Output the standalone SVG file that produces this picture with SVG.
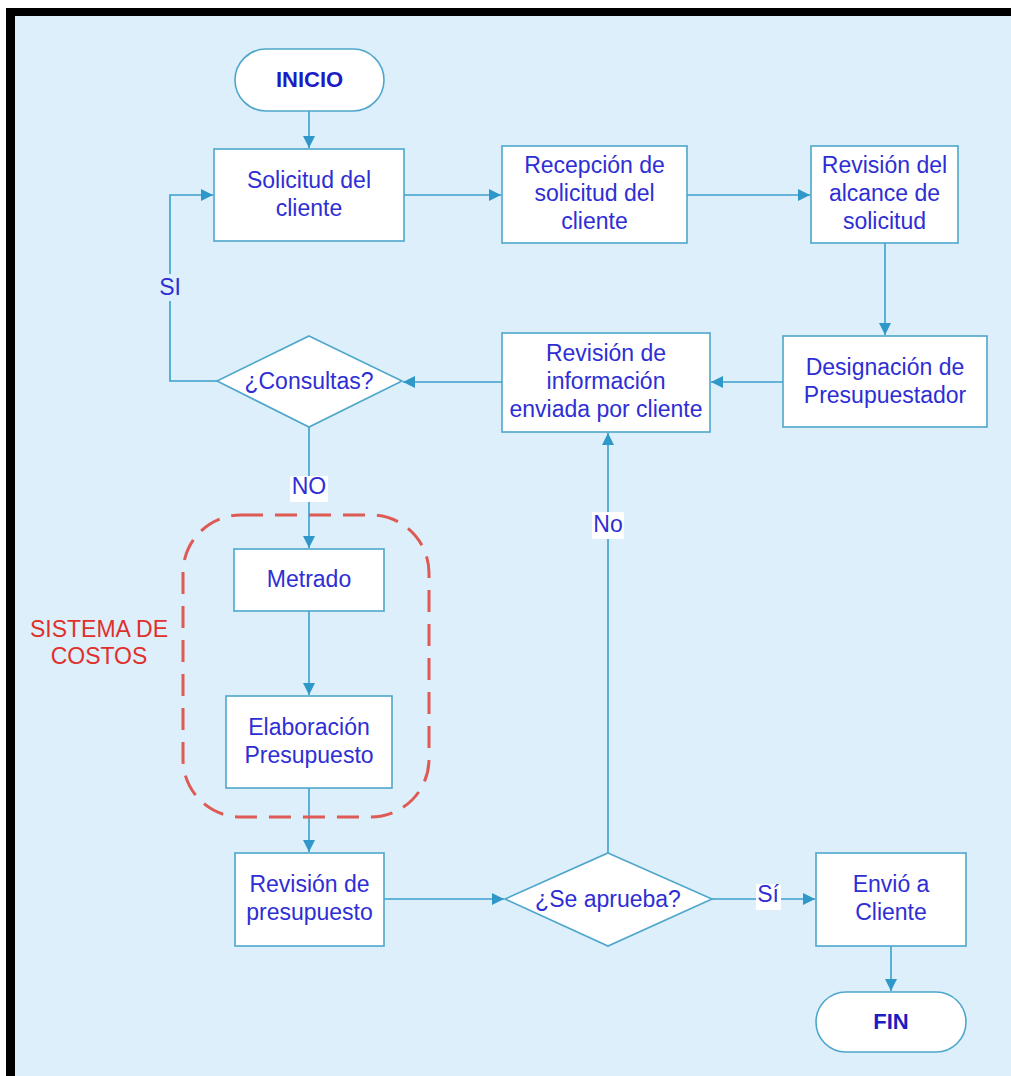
<svg xmlns="http://www.w3.org/2000/svg" width="1011" height="1076" viewBox="0 0 1011 1076">
<style>
.box{fill:#ffffff;stroke:#4ea6cc;stroke-width:1.6}
.t{font-family:"Liberation Sans",Arial,sans-serif;font-size:23px;fill:#2e2ed4;text-anchor:middle}
.b{font-weight:bold;fill:#1c1cc4;font-size:22px}
.red{fill:#e0302c}
.c{fill:none;stroke:#3b9fcc;stroke-width:1.6}
.lbg{fill:#ffffff}
</style>
<defs>
<marker id="ah" markerUnits="userSpaceOnUse" markerWidth="14" markerHeight="12" refX="12" refY="6" orient="auto">
<path d="M0,0 L12,6 L0,12 Z" fill="#2f98c8"/>
</marker>
</defs>
<rect x="0" y="0" width="1011" height="1076" fill="#ffffff"/>
<rect x="15" y="16" width="996" height="1060" fill="#ddeffa"/>
<rect x="6" y="8" width="1005" height="8" fill="#000000"/>
<rect x="6" y="8" width="9" height="1068" fill="#000000"/>

<g id="connectors">
<path class="c" d="M309,111 V148" marker-end="url(#ah)"/>
<path class="c" d="M404,195 H501" marker-end="url(#ah)"/>
<path class="c" d="M687,195 H810" marker-end="url(#ah)"/>
<path class="c" d="M885,243 V335" marker-end="url(#ah)"/>
<path class="c" d="M783,382 H711" marker-end="url(#ah)"/>
<path class="c" d="M502,382 H403" marker-end="url(#ah)"/>
<path class="c" d="M217,381 H170 V195 H213" marker-end="url(#ah)"/>
<path class="c" d="M309,427 V548" marker-end="url(#ah)"/>
<path class="c" d="M309,611 V695" marker-end="url(#ah)"/>
<path class="c" d="M309,788 V852" marker-end="url(#ah)"/>
<path class="c" d="M384,899 H504" marker-end="url(#ah)"/>
<path class="c" d="M608,853 V433" marker-end="url(#ah)"/>
<path class="c" d="M712,899 H815" marker-end="url(#ah)"/>
<path class="c" d="M891,946 V991" marker-end="url(#ah)"/>
<rect x="157" y="274" width="27" height="27" fill="#ddeffa"/>
<text class="t" x="170" y="295">SI</text>
<rect class="lbg" x="290" y="476" width="38" height="26"/>
<text class="t" x="309" y="494">NO</text>
<rect class="lbg" x="592" y="512" width="32" height="27"/>
<text class="t" x="608" y="532">No</text>
<rect class="lbg" x="756" y="884" width="25" height="26"/>
<text class="t" x="768" y="902">Sí</text>
</g>

<g id="sistema-costos">
<rect x="183" y="515" width="246" height="302" rx="58" ry="58" fill="none" stroke="#de5a55" stroke-width="3" stroke-dasharray="22 12"/>
<text class="t red" x="99" y="637">SISTEMA DE</text>
<text class="t red" x="99" y="664">COSTOS</text>
</g>

<g id="inicio">
<rect class="box" x="235" y="49" width="149" height="62" rx="31" ry="31"/>
<text class="t b" x="309.5" y="87">INICIO</text>
</g>
<g id="solicitud">
<rect class="box" x="214" y="149" width="190" height="92"/>
<text class="t" x="309" y="188">Solicitud del</text>
<text class="t" x="309" y="216">cliente</text>
</g>
<g id="recepcion">
<rect class="box" x="502" y="146" width="185" height="97"/>
<text class="t" x="594.5" y="173">Recepción de</text>
<text class="t" x="594.5" y="201">solicitud del</text>
<text class="t" x="594.5" y="229">cliente</text>
</g>
<g id="revision-alcance">
<rect class="box" x="811" y="146" width="147" height="97"/>
<text class="t" x="884.5" y="173">Revisión del</text>
<text class="t" x="884.5" y="201">alcance de</text>
<text class="t" x="884.5" y="229">solicitud</text>
</g>
<g id="designacion">
<rect class="box" x="783" y="336" width="204" height="91"/>
<text class="t" x="885" y="375">Designación de</text>
<text class="t" x="885" y="403">Presupuestador</text>
</g>
<g id="revision-info">
<rect class="box" x="502" y="333" width="208" height="99"/>
<text class="t" x="606" y="361">Revisión de</text>
<text class="t" x="606" y="389">información</text>
<text class="t" x="606" y="417">enviada por cliente</text>
</g>
<g id="consultas">
<polygon class="box" points="309,336 402,381 309,427 217,381"/>
<text class="t" x="309" y="389">¿Consultas?</text>
</g>
<g id="metrado">
<rect class="box" x="234" y="549" width="150" height="62"/>
<text class="t" x="309" y="587">Metrado</text>
</g>
<g id="elaboracion">
<rect class="box" x="226" y="696" width="166" height="92"/>
<text class="t" x="309" y="735">Elaboración</text>
<text class="t" x="309" y="763">Presupuesto</text>
</g>
<g id="revision-presupuesto">
<rect class="box" x="235" y="853" width="149" height="93"/>
<text class="t" x="309.5" y="892">Revisión de</text>
<text class="t" x="309.5" y="920">presupuesto</text>
</g>
<g id="se-aprueba">
<polygon class="box" points="608,853 712,899 608,946 505,899"/>
<text class="t" x="608" y="907">¿Se aprueba?</text>
</g>
<g id="envio">
<rect class="box" x="816" y="853" width="150" height="93"/>
<text class="t" x="891" y="892">Envió a</text>
<text class="t" x="891" y="920">Cliente</text>
</g>
<g id="fin">
<rect class="box" x="816" y="992" width="150" height="60" rx="30" ry="30"/>
<text class="t b" x="891" y="1029">FIN</text>
</g>
</svg>
